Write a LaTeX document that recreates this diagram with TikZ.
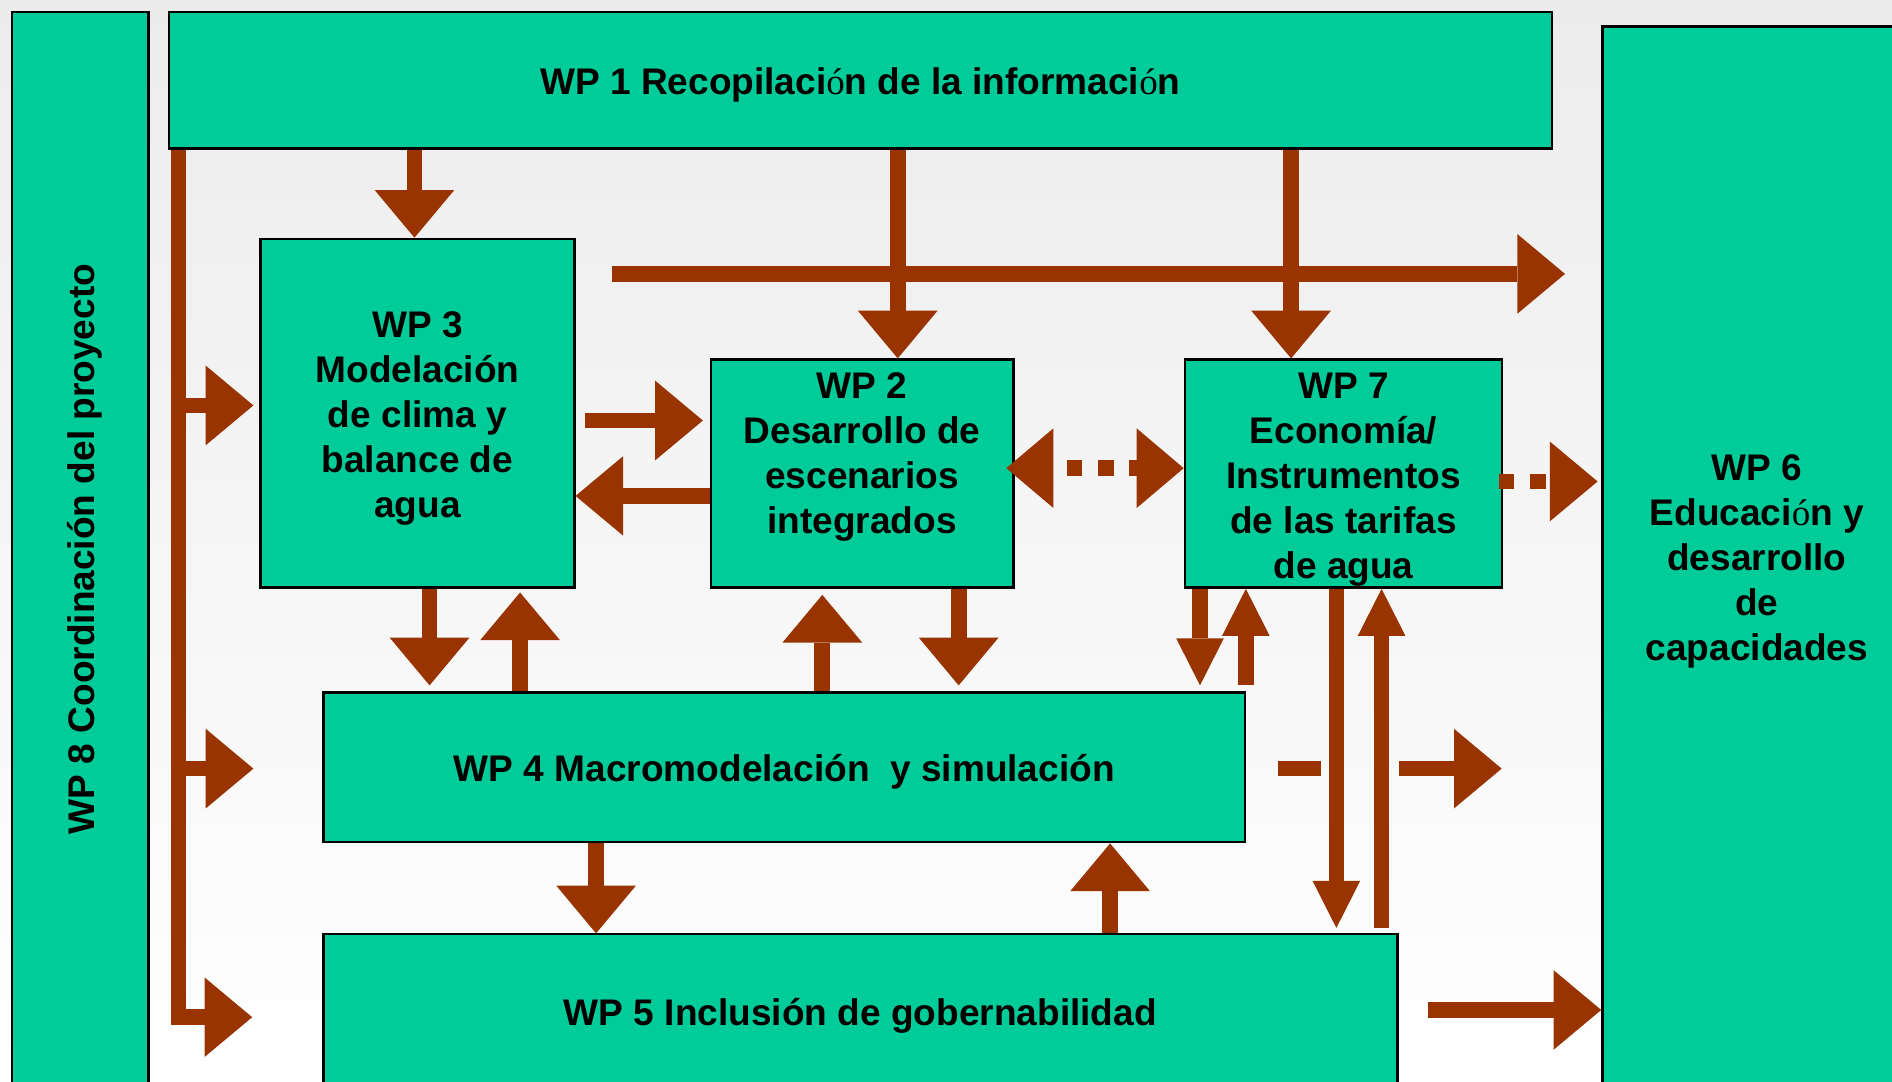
\documentclass[tikz,border=0pt]{standalone}
\usepackage{fontspec}
\newfontfamily\wpfont{Liberation Sans}
\newfontfamily\wpserif{Liberation Serif}
\usetikzlibrary{arrows.meta,calc}
\definecolor{boxgreen}{HTML}{00CC99}
\definecolor{arrowbrown}{HTML}{993300}
\definecolor{bgtop}{HTML}{ECECEC}
\newcommand{\serifo}{{\wpserif\mdseries ó}}
\newcommand{\wpstrut}{\rule{0pt}{30.5pt}}
\begin{document}
\begin{tikzpicture}[x=1pt,y=-1pt,
  wpbox/.style={draw=black, line width=2pt, fill=boxgreen, inner sep=0pt, align=center,
    font=\wpfont\bfseries\fontsize{30.7pt}{37.3pt}\selectfont},
  barrow/.style={draw=arrowbrown, line width=13pt,
    -{Triangle[width=66pt,length=39.5pt,line width=0pt]}},
  narrowarrow/.style={draw=arrowbrown, line width=13pt,
    -{Triangle[width=39.5pt,length=39pt,line width=0pt]}},
  dblarrow/.style={draw=arrowbrown, line width=13pt,
    {Triangle[width=66pt,length=39pt,line width=0pt]}-{Triangle[width=66pt,length=39pt,line width=0pt]}},
]
\useasboundingbox (0,0) rectangle (1568,896);
\shade[top color=bgtop, bottom color=white] (0,0) rectangle (1568,896);
\begin{scope}
\clip (0,0) rectangle (1568,896);

% boxes
\node[wpbox, rotate=90, minimum width=890pt, minimum height=113pt] (wp8) at (66.5,455) {\wpstrut WP 8 Coordinación del proyecto};
\node[wpbox, minimum width=1146pt, minimum height=113pt] (wp1) at (713,66.5) {\wpstrut WP 1 Recopilaci\serifo n de la informaci\serifo n};
\node[wpbox, minimum width=260pt, minimum height=289pt] (wp3) at (346,342.5) {\wpstrut WP 3\\Modelación\\de clima y\\balance de\\agua};
\node[wpbox, minimum width=251pt, minimum height=189pt] (wp2) at (714.5,392.5) {\wpstrut WP 2\\Desarrollo de\\escenarios\\integrados\\\phantom{g}};
\node[wpbox, minimum width=263pt, minimum height=189pt] (wp7) at (1113.5,392.5) {\wpstrut WP 7\\Economía/\\Instrumentos\\de las tarifas\\de agua};
\node[wpbox, minimum width=256pt, minimum height=878pt] (wp6) at (1456,461) {\wpstrut WP 6\\Educaci\serifo n y\\desarrollo\\de\\capacidades};
\node[wpbox, minimum width=764pt, minimum height=124pt] (wp4) at (650,636) {\wpstrut WP 4 Macromodelación\ \ y simulación};
\node[wpbox, minimum width=890pt, minimum height=128pt] (wp5) at (713,838) {\wpstrut WP 5 Inclusión de gobernabilidad};

% coordination bus (WP 8)
\coordinate (b0) at ($(wp1.south west)+(9,0)$);
\coordinate (tb1) at ($(wp3.west)+(-5,-6.5)$);
\coordinate (tb2) at ($(wp4.west)+(-57,1)$);
\coordinate (tb3) at ($(wp5.west)+(-58,5)$);
\draw[barrow, line join=miter] (b0) |- (tb3);
\draw[barrow] (b0 |- tb1) -- (tb1);
\draw[barrow] (b0 |- tb2) -- (tb2);

% from WP 1
\coordinate (t13) at ($(wp3.north)+(-2.5,0)$);
\draw[barrow] (wp1.south -| t13) -- (t13);
\coordinate (t12) at ($(wp2.north)+(29.5,0)$);
\draw[barrow] (wp1.south -| t12) -- (t12);
\coordinate (t17) at ($(wp7.north)+(-43.5,0)$);
\draw[barrow] (wp1.south -| t17) -- (t17);
\coordinate (h0) at ($(wp3.north east)+(30,30)$);
\coordinate (q6) at (wp6.west |- h0);
\coordinate (h1) at ($(q6)+(-30,0)$);
\draw[barrow] (h0) -- (h1);

% WP 3 <-> WP 2
\coordinate (s32) at ($(wp3.east)+(8,6)$);
\coordinate (q2) at (wp2.west |- s32);
\coordinate (t32) at ($(q2)+(-5.5,0)$);
\draw[barrow] (s32) -- (t32);
\coordinate (s23) at ($(wp2.west)+(0,18.5)$);
\draw[barrow] (s23) -- (wp3.east |- s23);

% WP 2 <-> WP 7 dotted
\coordinate (d0) at ($(wp2.east)+(-7,-4.5)$);
\draw[dblarrow, dash pattern=on 13pt off 13pt, dash phase=15pt] (d0) -- (wp7.west |- d0);

% WP 3 <-> WP 4
\coordinate (t34) at ($(wp3.south)+(10,80)$);
\draw[barrow] (wp3.south -| t34) -- (t34);
\coordinate (t43) at ($(wp3.south)+(85,3)$);
\draw[barrow] (wp4.north -| t43) -- (t43);

% WP 2 <-> WP 4
\coordinate (t42) at ($(wp2.south)+(-33,5)$);
\draw[barrow] (wp4.north -| t42) -- (t42);
\coordinate (t24) at ($(wp2.south)+(80,80)$);
\draw[barrow] (wp2.south -| t24) -- (t24);

% WP 7 <-> WP 4 / WP 5
\coordinate (t74) at ($(wp7.south)+(-119,80)$);
\draw[narrowarrow] (wp7.south -| t74) -- (t74);
\coordinate (s47) at ($(wp7.south)+(-81,80)$);
\draw[narrowarrow] (s47) -- (wp7.south -| s47);
\coordinate (t75) at ($(wp7.south)+(-6,281)$);
\draw[narrowarrow] (wp7.south -| t75) -- (t75);
\coordinate (s57) at ($(wp7.south)+(31.5,281)$);
\draw[narrowarrow] (s57) -- (wp7.south -| s57);

% to WP 6
\coordinate (q46) at ($(wp4.east)+(0,1)$);
\coordinate (q6b) at (wp6.west |- q46);
\coordinate (t46) at ($(q6b)+(-82.5,0)$);
\draw[barrow, dash pattern=on 36pt off 64pt on 60pt off 40pt, dash phase=174pt] (q46) -- (t46);
\coordinate (s76) at ($(wp7.east)+(-4,6.5)$);
\coordinate (q6c) at (wp6.west |- s76);
\coordinate (t76) at ($(q6c)+(-3,0)$);
\draw[barrow, dash pattern=on 13pt off 13pt] (s76) -- (t76);
\coordinate (s56) at ($(wp5.east)+(24.5,-1)$);
\draw[barrow] (s56) -- (wp6.west |- s56);

% WP 4 <-> WP 5
\coordinate (t45) at ($(wp4.south)+(-156,74.5)$);
\draw[barrow] (wp4.south -| t45) -- (t45);
\coordinate (s54) at ($(wp5.north)+(207,0)$);
\draw[barrow] (s54) -- (wp4.south -| s54);
\end{scope}
\end{tikzpicture}
\end{document}
